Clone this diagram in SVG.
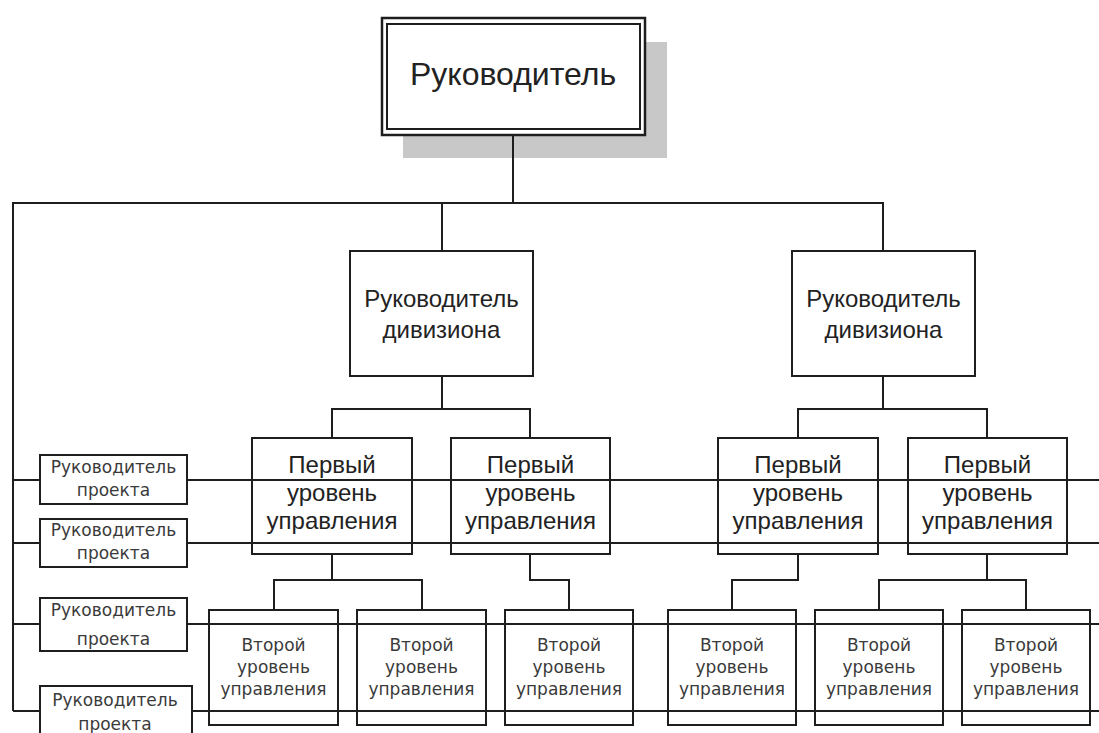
<svg xmlns="http://www.w3.org/2000/svg" width="1099" height="733" viewBox="0 0 1099 733">
<style>
.box{fill:#fff;stroke:#1e1e1e;stroke-width:2}
.ln{fill:none;stroke:#1e1e1e;stroke-width:2}
.big{font-family:"Liberation Sans",Arial,sans-serif;font-size:24px;fill:#222;text-anchor:middle}
.sm{font-family:"DejaVu Sans",Verdana,sans-serif;font-size:17px;fill:#3a3a3a;text-anchor:middle}
</style>
<rect width="1099" height="733" fill="#fff"/>
<g id="top">
<rect x="403" y="42" width="264" height="116" fill="#c8c8c8"/>
<rect x="382" y="18" width="263" height="117" fill="#fff" stroke="#1e1e1e" stroke-width="2.5"/>
<rect x="387" y="24" width="253" height="105" fill="none" stroke="#1e1e1e" stroke-width="2"/>
<text x="513" y="85" class="big" style="font-size:32px">Руководитель</text>
</g>
<g id="div1"><rect class="box" x="350" y="251" width="183" height="125"/><text class="big" x="441.5" y="307">Руководитель</text><text class="big" x="441.5" y="338">дивизиона</text></g>
<g id="div2"><rect class="box" x="792" y="251" width="183" height="125"/><text class="big" x="883.5" y="307">Руководитель</text><text class="big" x="883.5" y="338">дивизиона</text></g>
<g id="f1"><rect class="box" x="252" y="438" width="160" height="116"/><text class="big" x="332" y="473">Первый</text><text class="big" x="332" y="501">уровень</text><text class="big" x="332" y="529">управления</text></g>
<g id="f2"><rect class="box" x="451" y="438" width="159" height="116"/><text class="big" x="530.5" y="473">Первый</text><text class="big" x="530.5" y="501">уровень</text><text class="big" x="530.5" y="529">управления</text></g>
<g id="f3"><rect class="box" x="718" y="438" width="160" height="116"/><text class="big" x="798" y="473">Первый</text><text class="big" x="798" y="501">уровень</text><text class="big" x="798" y="529">управления</text></g>
<g id="f4"><rect class="box" x="908" y="438" width="159" height="116"/><text class="big" x="987.5" y="473">Первый</text><text class="big" x="987.5" y="501">уровень</text><text class="big" x="987.5" y="529">управления</text></g>
<g id="s1"><rect class="box" x="209" y="610" width="129" height="115"/><text class="sm" x="273.5" y="651">Второй</text><text class="sm" x="273.5" y="673">уровень</text><text class="sm" x="273.5" y="695">управления</text></g>
<g id="s2"><rect class="box" x="357" y="610" width="129" height="115"/><text class="sm" x="421.5" y="651">Второй</text><text class="sm" x="421.5" y="673">уровень</text><text class="sm" x="421.5" y="695">управления</text></g>
<g id="s3"><rect class="box" x="505" y="610" width="128" height="115"/><text class="sm" x="569" y="651">Второй</text><text class="sm" x="569" y="673">уровень</text><text class="sm" x="569" y="695">управления</text></g>
<g id="s4"><rect class="box" x="668" y="610" width="128" height="115"/><text class="sm" x="732" y="651">Второй</text><text class="sm" x="732" y="673">уровень</text><text class="sm" x="732" y="695">управления</text></g>
<g id="s5"><rect class="box" x="815" y="610" width="128" height="115"/><text class="sm" x="879" y="651">Второй</text><text class="sm" x="879" y="673">уровень</text><text class="sm" x="879" y="695">управления</text></g>
<g id="s6"><rect class="box" x="962" y="610" width="128" height="115"/><text class="sm" x="1026" y="651">Второй</text><text class="sm" x="1026" y="673">уровень</text><text class="sm" x="1026" y="695">управления</text></g>
<g id="p1"><rect class="box" x="40" y="455" width="147" height="49"/><text class="sm" x="113.5" y="473">Руководитель</text><text class="sm" x="113.5" y="496">проекта</text></g>
<g id="p2"><rect class="box" x="40" y="519" width="147" height="48"/><text class="sm" x="113.5" y="536">Руководитель</text><text class="sm" x="113.5" y="559">проекта</text></g>
<g id="p3"><rect class="box" x="40" y="598" width="147" height="53"/><text class="sm" x="113.5" y="616">Руководитель</text><text class="sm" x="113.5" y="645">проекта</text></g>
<g id="p4"><rect class="box" x="40" y="686" width="152" height="60"/><text class="sm" x="115" y="706">Руководитель</text><text class="sm" x="115" y="730">проекта</text></g>
<g id="connectors" class="ln">
<path d="M513,135V203M13,711V203H883V251M442,203V251"/>
<path d="M442,376V409M332,438V409H530V438M883,376V409M798,438V409H987V438"/>
<path d="M332,554V580M274,610V580H422V610M530,554V580H569V610M798,554V580H732V610M987,554V580M879,610V580H1026V610"/>
<path d="M13,480H40M187,480H1099M13,543H40M187,543H1099M13,624H40M187,624H1099M13,711H40M192,711H1099"/>
</g>
</svg>
